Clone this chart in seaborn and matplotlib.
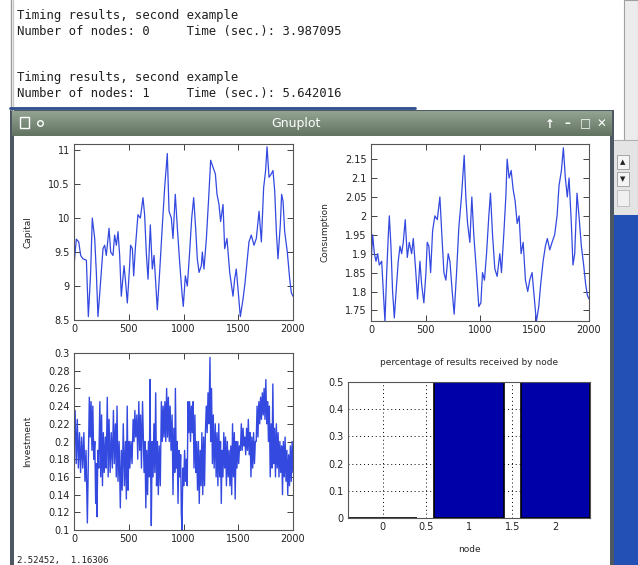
import numpy as np
import matplotlib
matplotlib.use("Agg")
import matplotlib.pyplot as plt
from matplotlib.patches import Rectangle
from matplotlib.ticker import StrMethodFormatter
import seaborn as sns

sns.set_style("ticks")
plt.rcParams['font.family'] = ['DejaVu Sans']
plt.rcParams['path.simplify'] = False

# ------------------------------------------------------------
# data
# ------------------------------------------------------------
cap_x = [0, 21, 43, 61, 82, 113, 131, 152, 167, 189, 204, 219, 240, 265, 280, 295,
         320, 335, 356, 371, 387, 402, 417, 432, 457, 469, 487, 508, 517, 533, 545,
         560, 584, 606, 630, 645, 660, 676, 697, 715, 731, 746, 761, 782, 807, 828,
         852, 868, 889, 904, 925, 944, 965, 986, 998, 1017, 1035, 1056, 1075, 1093,
         1111, 1126, 1142, 1163, 1172, 1187, 1209, 1230, 1248, 1269, 1291, 1306,
         1324, 1339, 1361, 1376, 1397, 1422, 1452, 1467, 1482, 1498, 1519, 1543,
         1562, 1580, 1598, 1619, 1644, 1665, 1690, 1711, 1732, 1750, 1763, 1781,
         1802, 1817, 1833, 1848, 1863, 1884, 1896, 1909, 1924, 1948, 1970, 1985, 2000]
cap_y = [9.3, 9.69, 9.65, 9.45, 9.4, 9.38, 8.55, 9.2, 10.0, 9.7, 9.2, 8.55, 9.0, 9.55,
         9.6, 9.45, 9.85, 9.5, 9.45, 9.75, 9.6, 9.8, 9.45, 8.85, 9.3, 9.1, 8.75, 9.3,
         9.6, 9.55, 9.15, 9.55, 10.05, 10.0, 10.3, 10.05, 9.5, 9.1, 9.9, 9.25, 9.45,
         9.05, 8.65, 9.2, 9.9, 10.45, 10.95, 10.1, 10.0, 9.7, 10.35, 9.85, 9.35, 8.9,
         8.7, 9.15, 9.0, 9.5, 10.0, 10.3, 9.85, 9.4, 9.2, 9.3, 9.5, 9.25, 9.7, 10.3,
         10.85, 10.75, 10.65, 10.35, 10.2, 9.95, 10.2, 9.55, 9.7, 9.2, 8.85, 9.1,
         9.25, 8.95, 8.55, 8.8, 9.05, 9.35, 9.65, 9.75, 9.6, 9.7, 10.1, 9.65, 10.45,
         10.7, 11.05, 10.6, 10.65, 10.7, 10.4, 9.8, 9.4, 9.9, 10.35, 10.25, 9.8, 9.5,
         9.1, 8.9, 8.85]

con_x = [0, 15, 31, 46, 61, 76, 98, 113, 128, 144, 159, 168, 183, 198, 214, 235, 250,
         266, 281, 296, 314, 333, 351, 373, 388, 409, 427, 449, 464, 485, 504, 516,
         531, 547, 565, 586, 608, 632, 650, 669, 687, 708, 724, 745, 763, 785, 806,
         830, 855, 870, 886, 907, 925, 943, 968, 989, 1008, 1023, 1041, 1060, 1081,
         1096, 1115, 1136, 1157, 1182, 1197, 1218, 1237, 1249, 1267, 1286, 1304, 1322,
         1341, 1359, 1377, 1396, 1417, 1438, 1456, 1478, 1496, 1517, 1539, 1557, 1579,
         1600, 1618, 1640, 1661, 1685, 1707, 1725, 1747, 1765, 1783, 1801, 1817, 1838,
         1853, 1869, 1890, 1908, 1930, 1951, 1969, 1985, 2000]
con_y = [1.87, 1.95, 1.9, 1.88, 1.9, 1.87, 1.88, 1.8, 1.72, 1.85, 1.95, 2.0, 1.92, 1.8,
         1.73, 1.82, 1.88, 1.92, 1.9, 1.93, 1.99, 1.89, 1.93, 1.9, 1.94, 1.86, 1.78,
         1.88, 1.82, 1.77, 1.85, 1.93, 1.92, 1.85, 1.96, 2.0, 1.99, 2.05, 1.95, 1.85,
         1.83, 1.9, 1.88, 1.8, 1.74, 1.85, 1.97, 2.05, 2.16, 2.05, 1.98, 1.93, 2.05,
         1.95, 1.85, 1.76, 1.77, 1.85, 1.83, 1.9, 2.0, 2.06, 1.95, 1.86, 1.84, 1.9,
         1.85, 1.95, 2.05, 2.15, 2.1, 2.12, 2.07, 2.04, 1.98, 2.0, 1.9, 1.93, 1.83,
         1.8, 1.83, 1.85, 1.79, 1.72, 1.76, 1.82, 1.88, 1.92, 1.94, 1.91, 1.93, 1.95,
         2.0, 2.08, 2.12, 2.18, 2.1, 2.05, 2.1, 1.98, 1.87, 1.9, 2.06, 2.0, 1.92, 1.87,
         1.82, 1.79, 1.78]

inv_x = [0, 10, 20, 30, 40, 50, 60, 70, 80, 90, 100, 110, 122, 130, 140, 148, 156, 164,
         172, 180, 190, 198, 204, 210, 218, 226, 236, 244, 252, 260, 268, 276, 286, 294,
         304, 312, 320, 330, 340, 350, 360, 368, 378, 386, 393, 402, 412, 423, 432, 440,
         450, 460, 470, 478, 486, 494, 502, 510, 520, 530, 540, 548, 556, 564, 574, 582,
         592, 600, 608, 616, 626, 634, 640, 648, 656, 664, 672, 680, 688, 694, 700, 706,
         714, 722, 730, 738, 746, 754, 762, 770, 778, 788, 798, 806, 814, 822, 830, 838,
         846, 854, 862, 870, 878, 886, 896, 904, 912, 920, 926, 934, 942, 950, 958, 966,
         974, 980, 986, 994, 1002, 1010, 1018, 1026, 1034, 1041, 1048, 1056, 1064, 1072,
         1080, 1088, 1096, 1104, 1112, 1120, 1128, 1136, 1144, 1152, 1160, 1168, 1176,
         1184, 1192, 1200, 1208, 1216, 1224, 1232, 1242, 1248, 1256, 1264, 1272, 1280,
         1290, 1298, 1306, 1314, 1322, 1330, 1338, 1345, 1352, 1360, 1368, 1376, 1384,
         1392, 1400, 1408, 1416, 1424, 1432, 1440, 1448, 1456, 1464, 1472, 1480, 1488,
         1496, 1504, 1512, 1520, 1528, 1536, 1544, 1552, 1560, 1568, 1576, 1584, 1592,
         1600, 1608, 1616, 1624, 1632, 1640, 1648, 1656, 1664, 1672, 1680, 1688, 1696,
         1704, 1712, 1720, 1728, 1736, 1744, 1752, 1760, 1768, 1776, 1784, 1792, 1800,
         1808, 1816, 1824, 1832, 1840, 1848, 1856, 1864, 1872, 1880, 1888, 1896, 1904,
         1912, 1920, 1928, 1936, 1944, 1952, 1960, 1968, 1976, 1984, 1992, 2000]
inv_y = [0.20, 0.235, 0.175, 0.225, 0.17, 0.21, 0.165, 0.205, 0.17, 0.21, 0.155, 0.19,
         0.108, 0.17, 0.25, 0.205, 0.245, 0.19, 0.24, 0.18, 0.2, 0.13, 0.175, 0.115,
         0.19, 0.17, 0.245, 0.16, 0.23, 0.15, 0.21, 0.165, 0.205, 0.17, 0.25, 0.16,
         0.225, 0.165, 0.21, 0.17, 0.235, 0.175, 0.22, 0.16, 0.24, 0.155, 0.2, 0.125,
         0.19, 0.145, 0.22, 0.15, 0.2, 0.135, 0.24, 0.145, 0.2, 0.17, 0.2, 0.175, 0.225,
         0.2, 0.235, 0.205, 0.23, 0.18, 0.245, 0.19, 0.23, 0.17, 0.245, 0.2, 0.165, 0.2,
         0.125, 0.19, 0.14, 0.2, 0.16, 0.27, 0.17, 0.105, 0.2, 0.16, 0.22, 0.165, 0.255,
         0.15, 0.2, 0.14, 0.195, 0.15, 0.245, 0.2, 0.24, 0.205, 0.245, 0.2, 0.26, 0.205,
         0.25, 0.2, 0.24, 0.19, 0.23, 0.14, 0.215, 0.165, 0.26, 0.17, 0.2, 0.13, 0.19,
         0.16, 0.185, 0.12, 0.1, 0.17, 0.15, 0.19, 0.155, 0.18, 0.15, 0.245, 0.21, 0.245,
         0.2, 0.24, 0.21, 0.245, 0.17, 0.23, 0.165, 0.2, 0.145, 0.2, 0.13, 0.19, 0.15,
         0.21, 0.14, 0.205, 0.15, 0.21, 0.24, 0.21, 0.255, 0.22, 0.295, 0.2, 0.26, 0.175,
         0.23, 0.17, 0.22, 0.16, 0.21, 0.15, 0.22, 0.16, 0.2, 0.13, 0.19, 0.16, 0.21,
         0.17, 0.205, 0.15, 0.2, 0.16, 0.19, 0.15, 0.195, 0.14, 0.22, 0.16, 0.21, 0.135,
         0.2, 0.17, 0.2, 0.175, 0.195, 0.19, 0.22, 0.19, 0.215, 0.195, 0.205, 0.185,
         0.215, 0.19, 0.225, 0.185, 0.21, 0.16, 0.205, 0.17, 0.21, 0.175, 0.2, 0.2, 0.24,
         0.205, 0.245, 0.22, 0.25, 0.225, 0.255, 0.23, 0.26, 0.225, 0.27, 0.22, 0.245,
         0.2, 0.24, 0.16, 0.22, 0.17, 0.265, 0.175, 0.215, 0.16, 0.22, 0.17, 0.21, 0.16,
         0.2, 0.165, 0.195, 0.14, 0.2, 0.16, 0.205, 0.155, 0.19, 0.14, 0.185, 0.15, 0.195,
         0.155, 0.2, 0.165]

nodes = [0, 1, 2]
node_share = [0.0, 0.5, 0.5]

term_lines = ["Timing results, second example",
              "Number of nodes: 0     Time (sec.): 3.987095",
              "Timing results, second example",
              "Number of nodes: 1     Time (sec.): 5.642016"]
status_text = "2.52452,  1.16306"

# ------------------------------------------------------------
# figure + screenshot furniture (pixel coordinates)
# ------------------------------------------------------------
W, H = 638, 565
fig = plt.figure(figsize=(W / 100, H / 100), dpi=100)
fig.patch.set_facecolor("white")


def rect(l, t, r, b):
    return [l / W, 1 - b / H, (r - l) / W, (b - t) / H]


bg = fig.add_axes([0, 0, 1, 1])
bg.set_xlim(0, W)
bg.set_ylim(H, 0)
bg.axis("off")

# terminal
bg.plot([11, 11], [0, 110], color="#9a9a9a", lw=1)
bg.plot([13, 13], [0, 110], color="#c8c8c8", lw=1)
bg.add_patch(Rectangle((624, 0), 14, 215, facecolor="#ececec", edgecolor="#a0a0a0", lw=0.8))
bg.plot([10, 415], [108, 108], color="#2c4c8c", lw=2)
mono = ["DejaVu Sans Mono"]
for txt, yy in zip(term_lines, [15, 31, 78, 94]):
    bg.text(17, yy, txt, family=mono, fontsize=8.8, color="#202020", va="center", ha="left")

# desktop + terminal scrollbar at the right
bg.add_patch(Rectangle((612, 140), 26, 75, facecolor="#e4e4e4", edgecolor="#b0b0b0", lw=0.8))
bg.add_patch(Rectangle((612, 215), 26, 350, facecolor="#2350b4", edgecolor="none"))
bg.add_patch(Rectangle((617, 155), 12, 14, facecolor="#f4f4f4", edgecolor="#9a9a9a", lw=0.6))
bg.add_patch(Rectangle((617, 172), 12, 14, facecolor="#f4f4f4", edgecolor="#9a9a9a", lw=0.6))
bg.text(623, 162, "\u25b2", fontsize=5, ha="center", va="center", color="#222")
bg.text(623, 179, "\u25bc", fontsize=5, ha="center", va="center", color="#222")
bg.add_patch(Rectangle((617, 190), 12, 16, facecolor="#f0f0f0", edgecolor="#b8b8b8", lw=0.6))

# gnuplot window
bg.add_patch(Rectangle((10, 110), 604, 460, facecolor="#4d5863", edgecolor="none"))
grad = np.linspace(0, 1, 30).reshape(-1, 1)
bg.imshow(grad, extent=(12, 612, 136, 111), aspect="auto",
          cmap=matplotlib.colors.LinearSegmentedColormap.from_list("tb", ["#93a393", "#627462"]),
          zorder=1)
bg.add_patch(Rectangle((14, 136), 596, 434, facecolor="white", edgecolor="none", zorder=2))
bg.text(296, 124, "Gnuplot", color="white", fontsize=9, ha="center", va="center", zorder=3)
bg.add_patch(Rectangle((20, 117), 9, 11, facecolor="none", edgecolor="white", lw=1, zorder=3))
bg.plot([40], [123], marker="o", ms=4, mfc="none", mec="white", zorder=3)
for xx, sym in zip([550, 567, 585, 601], ["\u2191", "\u2013", "\u25a1", "\u2715"]):
    bg.text(xx, 124, sym, color="white", fontsize=8.5, fontweight="bold",
            ha="center", va="center", zorder=3)
bg.text(17, 560, status_text, family=mono, fontsize=6.5, color="#202020",
        va="center", ha="left", zorder=3)

# ------------------------------------------------------------
# the four gnuplot panels
# ------------------------------------------------------------
line_col = "#3349e0"
tick_fs = 7
fmt = StrMethodFormatter("{x:g}")


def style(ax):
    for s in ax.spines.values():
        s.set_color("#555555")
        s.set_linewidth(0.8)
    ax.tick_params(direction="in", top=True, right=True, length=4, width=0.6,
                   labelsize=tick_fs, pad=3, colors="#222222")
    ax.xaxis.set_major_formatter(fmt)
    ax.yaxis.set_major_formatter(fmt)


def series_panel(box, xs, ys, label, yticks, ylim, lw=0.9):
    ax = fig.add_axes(rect(*box))
    sns.lineplot(x=xs, y=ys, ax=ax, color=line_col, linewidth=lw,
                 sort=False, estimator=None)
    ax.set_xlim(0, 2000)
    ax.set_ylim(*ylim)
    ax.set_xticks([0, 500, 1000, 1500, 2000])
    ax.set_yticks(yticks)
    ax.set_ylabel(label, fontsize=6.5)
    ax.yaxis.set_label_coords(-0.19, 0.5)
    style(ax)
    return ax


series_panel((74, 144, 293, 320), cap_x, cap_y, "Capital",
             [8.5, 9, 9.5, 10, 10.5, 11], (8.5, 11.09))
series_panel((371, 144, 589, 321), con_x, con_y, "Consumption",
             [1.75, 1.8, 1.85, 1.9, 1.95, 2.0, 2.05, 2.1, 2.15], (1.722, 2.19))
series_panel((74, 353, 293, 530), inv_x, inv_y, "Investment",
             [0.1, 0.12, 0.14, 0.16, 0.18, 0.2, 0.22, 0.24, 0.26, 0.28, 0.3], (0.1, 0.3),
             lw=1.0)

# bar panel
axb = fig.add_axes(rect(348, 382, 590, 518))
sns.barplot(x=nodes, y=node_share, ax=axb, color="#0000a8", saturation=1,
            width=0.8, native_scale=True, edgecolor="black", linewidth=1.2)
axb.set_xlim(-0.4, 2.4)
axb.set_ylim(0, 0.5)
axb.set_xticks([0, 0.5, 1, 1.5, 2])
axb.set_yticks([0, 0.1, 0.2, 0.3, 0.4, 0.5])
axb.set_axisbelow(True)
axb.grid(True, linestyle=(0, (1, 3)), color="black", linewidth=0.7)
style(axb)
axb.tick_params(length=0)
axb.set_xlabel("node", fontsize=6.5)
axb.xaxis.set_label_coords(0.5, -0.2)
axb.set_ylabel("")
axb.text(0.5, 1.14, "percentage of results received by node", transform=axb.transAxes,
         fontsize=6.5, ha="center", va="center")

plt.savefig("out.png", dpi=100)
